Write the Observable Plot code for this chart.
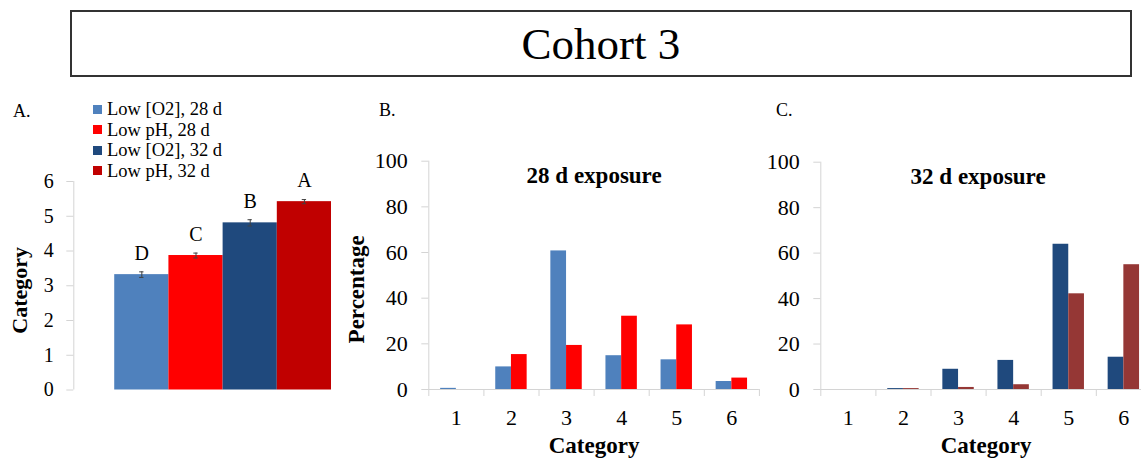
<!DOCTYPE html>
<html>
<head>
<meta charset="utf-8">
<script src="https://cdn.jsdelivr.net/npm/d3@7"></script>
<script src="https://cdn.jsdelivr.net/npm/@observablehq/plot@0.6"></script>
<style>
  html, body { margin: 0; padding: 0; background: #fff; }
  #page { position: relative; width: 1141px; height: 458px; overflow: hidden; background: #fff;
          font-family: "Liberation Serif", "Times New Roman", serif; color: #000; }
  .abs { position: absolute; }
  #titlebox { left: 70px; top: 10px; width: 1062px; height: 67px; box-sizing: border-box;
              border: 2px solid #333; display: flex; align-items: center; justify-content: center;
              font-size: 45px; line-height: 45px; padding-top: 2px; }
  .panel-letter { font-size: 18px; line-height: 18px; }
  #legend { font-size: 18.5px; }
  #legend .row { display: flex; align-items: center; height: 20.5px; line-height: 20.5px; white-space: nowrap; }
  #legend .sw { width: 9px; height: 9px; margin-right: 5px; flex: none; }
</style>
</head>
<body>
<div id="page">
  <div id="titlebox" class="abs">Cohort 3</div>
</div>
<script>
// ---------- data ----------
const groups = ["Low [O2], 28 d", "Low pH, 28 d", "Low [O2], 32 d", "Low pH, 32 d"];
const groupColors = ["#4F81BD", "#FF0000", "#1F497D", "#C00000"];
const meanCategory = [3.32, 3.87, 4.81, 5.42];
const errCategory = [0.08, 0.07, 0.09, 0.06];
const sigLetters = ["D", "C", "B", "A"];
const yTicksA = [0, 1, 2, 3, 4, 5, 6];

const categories = [1, 2, 3, 4, 5, 6];
const pctO2_28 = [0.5, 9.9, 60.7, 14.8, 13.0, 3.5];
const pctPH_28 = [0, 15.3, 19.3, 32.1, 28.3, 5.0];
const pctO2_32 = [0, 0.4, 8.9, 12.8, 63.9, 14.2];
const pctPH_32 = [0, 0.4, 0.9, 2.1, 42.1, 54.9];
const yTicksPct = [0, 20, 40, 60, 80, 100];
const colorC_PH = "#953735";

// ---------- styling ----------
const FONT = '"Liberation Serif", "Times New Roman", serif';
const axisGray = "#d4d4d4";
const intFmt = d => String(d);
const page = document.getElementById("page");

function place(el, left, top) {
  el.style.position = "absolute";
  el.style.left = left + "px";
  el.style.top = top + "px";
  page.appendChild(el);
}

// ---------- Panel A ----------
const rowsA = groups.map((g, i) => ({
  i, group: g, color: groupColors[i], mean: meanCategory[i], err: errCategory[i], letter: sigLetters[i]
}));
const capsA = rowsA.flatMap(d => [
  {i: d.i, y: d.mean - d.err}, {i: d.i, y: d.mean + d.err}
]);
const xDomainA = [-0.755, groups.length];

const chartA = Plot.plot({
  width: 340, height: 300,
  marginLeft: 73.3, marginRight: 9, marginTop: 81, marginBottom: 10.5,
  x: {domain: xDomainA, axis: null},
  y: {domain: [0, 6], axis: null},
  color: {type: "identity"},
  style: {fontFamily: FONT, fontSize: "20px", color: "black", background: "transparent", overflow: "visible"},
  marks: [
    Plot.ruleX([xDomainA[0]], {stroke: axisGray}),
    Plot.axisY({ticks: yTicksA, tickFormat: intFmt, tickSize: 7, tickPadding: 13, stroke: axisGray, fill: "black", label: null, fontSize: 20}),
    Plot.rectY(rowsA, {x1: d => d.i, x2: d => d.i + 1, y: "mean", fill: "color"}),
    Plot.ruleX(rowsA, {x: d => d.i + 0.5, y1: d => d.mean - d.err, y2: d => d.mean + d.err, stroke: "#404040", strokeWidth: 1}),
    Plot.ruleY(capsA, {y: "y", x1: d => d.i + 0.5 - 0.04, x2: d => d.i + 0.5 + 0.04, stroke: "#404040", strokeWidth: 1}),
    Plot.text(rowsA, {x: d => d.i + 0.5, y: "mean", text: "letter", dy: -21, lineAnchor: "middle", fontSize: 20}),
    Plot.text(["Category"], {frameAnchor: "left", textAnchor: "middle", lineAnchor: "middle", rotate: -90, dx: -54, dy: 4.5, fontWeight: "bold", fontSize: 22})
  ]
});
place(chartA, 0, 100);

// ---------- Panels B and C ----------
const boundaries = [categories[0] - 0.5, ...categories.map(c => c + 0.5)];
const barW = 0.285;

function pctChart({o2, ph, colO2, colPH, title, marginLeft, marginTop, marginRight, width, yLabel}) {
  const rows = categories.map((c, i) => ({c, o2: o2[i], ph: ph[i]}));
  const marks = [
    Plot.ruleX([boundaries[0]], {stroke: axisGray}),
    Plot.ruleY([0], {stroke: axisGray}),
    Plot.axisY({ticks: yTicksPct, tickFormat: intFmt, tickSize: 7, tickPadding: 14, stroke: axisGray, fill: "black", label: null}),
    Plot.axisX({ticks: boundaries, tickSize: 7, stroke: axisGray, fill: "none", label: null}),
    Plot.axisX({ticks: categories, tickFormat: intFmt, tickSize: 0, tickPadding: 20, fill: "black", label: null}),
    Plot.rectY(rows, {x1: d => d.c - barW, x2: d => d.c, y: "o2", fill: colO2}),
    Plot.rectY(rows, {x1: d => d.c, x2: d => d.c + barW, y: "ph", fill: colPH}),
    Plot.text([title.text], {frameAnchor: "top", textAnchor: "middle", lineAnchor: "middle", dx: title.dx, dy: 14, fontWeight: "bold", fontSize: 23}),
    Plot.text(["Category"], {frameAnchor: "bottom", textAnchor: "middle", lineAnchor: "middle", dy: 56.6, fontWeight: "bold", fontSize: 23})
  ];
  if (yLabel) {
    marks.push(Plot.text([yLabel], {frameAnchor: "left", textAnchor: "middle", lineAnchor: "middle", rotate: -90, dx: -72, dy: 14, fontWeight: "bold", fontSize: 23}));
  }
  return Plot.plot({
    width, height: 358,
    marginLeft, marginRight, marginTop, marginBottom: 69,
    x: {domain: [boundaries[0], boundaries[boundaries.length - 1]], axis: null},
    y: {domain: [0, 100], axis: null},
    style: {fontFamily: FONT, fontSize: "22px", color: "black", background: "transparent", overflow: "visible"},
    marks
  });
}

const chartB = pctChart({
  o2: pctO2_28, ph: pctPH_28, colO2: groupColors[0], colPH: groupColors[1],
  title: {text: "28 d exposure", dx: 0},
  marginLeft: 88.3, marginTop: 60.7, marginRight: 1.1, width: 420, yLabel: "Percentage"
});
place(chartB, 340, 100);

const chartC = pctChart({
  o2: pctO2_32, ph: pctPH_32, colO2: groupColors[2], colPH: colorC_PH,
  title: {text: "32 d exposure", dx: -8},
  marginLeft: 60.3, marginTop: 61.7, marginRight: -9.9, width: 381, yLabel: null
});
place(chartC, 760, 100);

// ---------- panel letters ----------
[["A.", 13, 101.5], ["B.", 379, 101], ["C.", 776, 101]].forEach(([t, x, y]) => {
  const d = document.createElement("div");
  d.className = "panel-letter";
  d.textContent = t;
  place(d, x, y);
});

// ---------- legend ----------
const legend = document.createElement("div");
legend.id = "legend";
groups.forEach((g, i) => {
  const row = document.createElement("div");
  row.className = "row";
  const sw = document.createElement("span");
  sw.className = "sw";
  sw.style.background = groupColors[i];
  const lab = document.createElement("span");
  lab.textContent = g;
  row.appendChild(sw);
  row.appendChild(lab);
  legend.appendChild(row);
});
place(legend, 93, 99);
</script>
</body>
</html>
